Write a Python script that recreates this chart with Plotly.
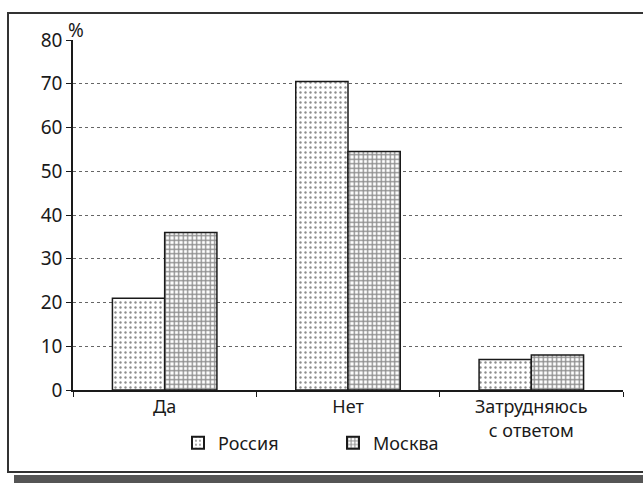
import plotly.graph_objects as go

categories = ["Да", "Нет", "Затрудняюсь<br>с ответом"]
russia = [21, 70.5, 7]
moscow = [36, 54.5, 8]
y_ticks = [0, 10, 20, 30, 40, 50, 60, 70, 80]

FONT = "Noto Sans"
INK = "#1a1a1a"

fig = go.Figure()
fig.add_trace(go.Bar(
    x=categories, y=russia, name="Россия",
    marker=dict(color="white", line=dict(color=INK, width=1.5),
                pattern=dict(shape=".", fgcolor=INK, bgcolor="white", size=5, solidity=0.18)),
))
fig.add_trace(go.Bar(
    x=categories, y=moscow, name="Москва",
    marker=dict(color="white", line=dict(color=INK, width=1.5),
                pattern=dict(shape="+", fgcolor=INK, bgcolor="white", size=4.5, solidity=0.5)),
))

L, T, R, B = 73, 40, 20, 93
W, H = 643, 483
pw, ph = W - L - R, H - T - B

def px(x):
    return (x - L) / pw

def py(y):
    return (H - B - y) / ph

fig.update_layout(
    width=W, height=H,
    margin=dict(l=L, r=R, t=T, b=B, autoexpand=False),
    paper_bgcolor="white", plot_bgcolor="white",
    font=dict(family=FONT, size=18, color=INK),
    barmode="group", bargap=0.43, bargroupgap=0,
    showlegend=True,
    legend=dict(orientation="h", x=px(178), y=py(443), xanchor="left", yanchor="middle",
                entrywidth=110, entrywidthmode="pixels", itemsizing="constant",
                font=dict(family=FONT, size=18, color=INK), bgcolor="rgba(0,0,0,0)"),
    xaxis=dict(showline=True, linecolor=INK, linewidth=1.5, tickson="boundaries",
               ticks="outside", ticklen=5, tickcolor=INK, showgrid=False,
               range=[-0.5, 2.5], tickfont=dict(size=18)),
    yaxis=dict(range=[0, 80], tickvals=y_ticks, showline=True, linecolor=INK, linewidth=1.5,
               ticks="outside", ticklen=5, tickcolor=INK,
               showgrid=True, gridcolor="#666666", griddash="dot", gridwidth=1,
               zeroline=False, tickfont=dict(size=19)),
    shapes=[
        dict(type="rect", xref="paper", yref="paper",
             x0=px(8), x1=px(660), y0=py(472), y1=py(13),
             line=dict(color="#333", width=2), fillcolor="rgba(0,0,0,0)", layer="below"),
        dict(type="rect", xref="paper", yref="paper",
             x0=px(14), x1=px(660), y0=py(483), y1=py(475),
             line=dict(width=0), fillcolor="#555555", layer="below"),
    ],
    annotations=[
        dict(text="%", xref="paper", yref="paper", x=px(76), y=py(30),
             showarrow=False, font=dict(size=19, color=INK), xanchor="center", yanchor="middle"),
    ],
)

fig.write_html("out.html", config={"displayModeBar": False},
               post_script="document.body.style.margin='0';document.body.style.overflow='hidden';")
